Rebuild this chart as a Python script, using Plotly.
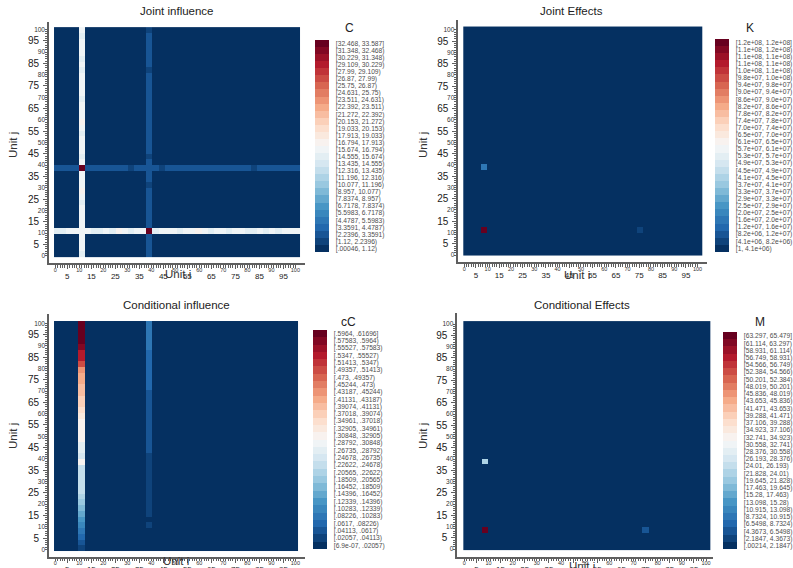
import numpy as np
import plotly.graph_objects as go
from plotly.colors import sample_colorscale

W, H = 793, 568
NB = 40  # bins per axis in every heat map
FONT = "Liberation Sans"

# ---------------- data ----------------
# Joint influence (C): background level plus the rows/columns of the two shocked units
c_base = 0.5
c_col_a = [15.1, 16.2, 16.3, 16.1, 16.3, 16.2, 16.0, 16.4, 16.1, 15.2,
           16.3, 17.4, 16.2, 16.3, 16.1, 33.1, 16.2, 15.3, 16.4, 16.2,
           16.3, 15.1, 16.2, 17.5, 16.3, 16.1, 16.2, 15.2, 16.3, 16.2,
           16.4, 16.1, 15.3, 16.2, 15.2, 16.3, 16.2, 16.1, 15.1, 16.2]   # unit bin 4, by j
c_row_a = [15.0, 15.2, 16.3, 16.2, 16.3, 16.2, 15.1, 15.3, 16.2, 15.2,
           17.4, 16.3, 15.4, 16.2, 16.3, 33.1, 15.2, 16.3, 16.2, 16.4,
           15.2, 16.3, 16.2, 17.3, 16.2, 15.3, 16.3, 16.2, 15.2, 16.3,
           16.2, 15.1, 15.2, 16.3, 15.3, 16.2, 15.2, 16.3, 16.2, 16.3]   # unit bin 4, by i
c_col_b = [2.8, 2.8, 2.8, 2.8, 33.1, 2.8, 2.8, 2.8, 2.8, 2.8,
           2.8, 2.8, 1.7, 2.8, 2.8, 2.8, 2.8, 1.7, 2.8, 2.8,
           2.8, 2.8, 2.8, 2.8, 2.8, 2.8, 2.8, 2.8, 2.8, 2.8,
           2.8, 2.8, 1.7, 2.8, 2.8, 2.8, 2.8, 2.8, 2.8, 1.7]             # unit bin 15, by j
c_row_b = [2.8, 2.8, 2.8, 2.8, 33.1, 2.8, 2.8, 2.8, 2.8, 2.8,
           2.8, 2.8, 1.7, 2.8, 2.8, 2.8, 2.8, 1.7, 2.8, 2.8,
           2.8, 2.8, 2.8, 2.8, 2.8, 2.8, 2.8, 2.8, 2.8, 2.8,
           2.8, 2.8, 1.7, 2.8, 2.8, 2.8, 2.8, 2.8, 2.8, 2.8]             # unit bin 15, by i
unit_a, unit_b = 4, 15

# Conditional influence (cC): background plus two columns
cc_base = 0.008
cc_col_a = [.031, .051, .072, .092, .113, .134, .154, .175, .195, .216,
            .236, .236, .237, .235, .236, .318, .257, .277, .278, .319,
            .318, .320, .317, .339, .360, .380, .381, .400, .401, .421,
            .422, .442, .504, .545, .544, .586, .606, .607, .606, .610]
cc_col_b = [.008, .008, .008, .008, .031, .008, .031, .031, .031, .031,
            .031, .031, .031, .031, .031, .031, .031, .051, .051, .051,
            .051, .051, .051, .051, .051, .051, .051, .051, .072, .072,
            .072, .072, .072, .072, .072, .092, .092, .092, .092, .092]

# Joint effects (K) and conditional effects (M): background plus a few cells
k_base = 1.5e6
k_cell_i = [3, 3, 29]
k_cell_j = [4, 15, 4]
k_cell_v = [1.22e8, 1.8e7, 6.2e6]

m_base = 1.0
m_cell_i = [3, 3, 29]
m_cell_j = [3, 15, 3]
m_cell_v = [64.5, 22.9, 5.4]

# legend bins (bottom to top)
c_bounds = (0.00046, 33.587)
c_labels = ["[.00046, 1.12)", "[1.12, 2.2396)", "[2.2396, 3.3591)", "[3.3591, 4.4787)",
            "[4.4787, 5.5983)", "[5.5983, 6.7178)", "[6.7178, 7.8374)", "[7.8374, 8.957)",
            "[8.957, 10.077)", "[10.077, 11.196)", "[11.196, 12.316)", "[12.316, 13.435)",
            "[13.435, 14.555)", "[14.555, 15.674)", "[15.674, 16.794)", "[16.794, 17.913)",
            "[17.913, 19.033)", "[19.033, 20.153)", "[20.153, 21.272)", "[21.272, 22.392)",
            "[22.392, 23.511)", "[23.511, 24.631)", "[24.631, 25.75)", "[25.75, 26.87)",
            "[26.87, 27.99)", "[27.99, 29.109)", "[29.109, 30.229)", "[30.229, 31.348)",
            "[31.348, 32.468)", "[32.468, 33.587]"]
k_bounds = (1.0, 1.23e8)
k_labels = ["[1, 4.1e+06)", "[4.1e+06, 8.2e+06)", "[8.2e+06, 1.2e+07)", "[1.2e+07, 1.6e+07)",
            "[1.6e+07, 2.0e+07)", "[2.0e+07, 2.5e+07)", "[2.5e+07, 2.9e+07)", "[2.9e+07, 3.3e+07)",
            "[3.3e+07, 3.7e+07)", "[3.7e+07, 4.1e+07)", "[4.1e+07, 4.5e+07)", "[4.5e+07, 4.9e+07)",
            "[4.9e+07, 5.3e+07)", "[5.3e+07, 5.7e+07)", "[5.7e+07, 6.1e+07)", "[6.1e+07, 6.5e+07)",
            "[6.5e+07, 7.0e+07)", "[7.0e+07, 7.4e+07)", "[7.4e+07, 7.8e+07)", "[7.8e+07, 8.2e+07)",
            "[8.2e+07, 8.6e+07)", "[8.6e+07, 9.0e+07)", "[9.0e+07, 9.4e+07)", "[9.4e+07, 9.8e+07)",
            "[9.8e+07, 1.0e+08)", "[1.0e+08, 1.1e+08)", "[1.1e+08, 1.1e+08)", "[1.1e+08, 1.1e+08)",
            "[1.1e+08, 1.2e+08)", "[1.2e+08, 1.2e+08]"]
cc_bounds = (6.9e-07, 0.61696)
cc_labels = ["[6.9e-07, .02057)", "[.02057, .04113)", "[.04113, .0617)", "[.0617, .08226)",
             "[.08226, .10283)", "[.10283, .12339)", "[.12339, .14396)", "[.14396, .16452)",
             "[.16452, .18509)", "[.18509, .20565)", "[.20565, .22622)", "[.22622, .24678)",
             "[.24678, .26735)", "[.26735, .28792)", "[.28792, .30848)", "[.30848, .32905)",
             "[.32905, .34961)", "[.34961, .37018)", "[.37018, .39074)", "[.39074, .41131)",
             "[.41131, .43187)", "[.43187, .45244)", "[.45244, .473)", "[.473, .49357)",
             "[.49357, .51413)", "[.51413, .5347)", "[.5347, .55527)", "[.55527, .57583)",
             "[.57583, .5964)", "[.5964, .61696]"]
m_bounds = (0.00214, 65.479)
m_labels = ["[.00214, 2.1847)", "[2.1847, 4.3673)", "[4.3673, 6.5498)", "[6.5498, 8.7324)",
            "[8.7324, 10.915)", "[10.915, 13.098)", "[13.098, 15.28)", "[15.28, 17.463)",
            "[17.463, 19.645)", "[19.645, 21.828)", "[21.828, 24.01)", "[24.01, 26.193)",
            "[26.193, 28.376)", "[28.376, 30.558)", "[30.558, 32.741)", "[32.741, 34.923)",
            "[34.923, 37.106)", "[37.106, 39.288)", "[39.288, 41.471)", "[41.471, 43.653)",
            "[43.653, 45.836)", "[45.836, 48.019)", "[48.019, 50.201)", "[50.201, 52.384)",
            "[52.384, 54.566)", "[54.566, 56.749)", "[56.749, 58.931)", "[58.931, 61.114)",
            "[61.114, 63.297)", "[63.297, 65.479]"]

# ---------------- matrices ----------------
zc = np.full((NB, NB), c_base)
zc[:, unit_a] = c_col_a
zc[unit_a, :] = c_row_a
zc[:, unit_b] = c_col_b
zc[unit_b, :] = c_row_b

zcc = np.full((NB, NB), cc_base)
zcc[:, unit_a] = cc_col_a
zcc[:, unit_b] = cc_col_b

zk = np.full((NB, NB), k_base)
for i, j, v in zip(k_cell_i, k_cell_j, k_cell_v):
    zk[j, i] = v

zm = np.full((NB, NB), m_base)
for i, j, v in zip(m_cell_i, m_cell_j, m_cell_v):
    zm[j, i] = v

# ---------------- colours ----------------
RDBU = ["#053061", "#2166ac", "#4393c3", "#92c5de", "#d1e5f0", "#f7f7f7",
        "#fddbc7", "#f4a582", "#d6604d", "#b2182b", "#67001f"]
NCOL = 30
cols = sample_colorscale([[k / 10, c] for k, c in enumerate(RDBU)],
                         [k / (NCOL - 1) for k in range(NCOL)])
step_scale = []
for k, c in enumerate(cols):
    step_scale += [[k / NCOL, c], [(k + 1) / NCOL, c]]


def px_x(p):
    return p / W


def px_y(p):
    return 1 - p / H


panels = [
    dict(z=zc, bounds=c_bounds, labels=c_labels, name="C", title="Joint influence",
         xd=(49, 305), yd=(21.7, 263), xr=(-2.63, 104.0), yr=(-3.2, 103.4),
         hx=(-0.54, 101.96), hy=(-0.57, 101.0), bar=(315, 40, 252),
         ttl=(176.7, 11), ct=(349, 28), ui=(177.5, 274), uj=(13, 145)),
    dict(z=zk, bounds=k_bounds, labels=k_labels, name="K", title="Joint Effects",
         xd=(458.3, 706.7), yd=(20, 262.3), xr=(-2.57, 103.9), yr=(-3.24, 104.4),
         hx=(-0.43, 101.8), hy=(-0.44, 101.5), bar=(715, 39, 251.7),
         ttl=(571, 11), ct=(750, 28), ui=(576.7, 275), uj=(423, 145)),
    dict(z=zcc, bounds=cc_bounds, labels=cc_labels, name="cC", title="Conditional influence",
         xd=(49, 305), yd=(314, 556.7), xr=(-2.63, 104.0), yr=(-3.27, 104.1),
         hx=(-0.54, 100.9), hy=(-0.6, 101.0), bar=(312.7, 330, 548.7),
         ttl=(176, 305), ct=(348, 322), ui=(176, 561), uj=(13, 436)),
    dict(z=zm, bounds=m_bounds, labels=m_labels, name="M", title="Conditional Effects",
         xd=(457.3, 713.3), yd=(313, 556.7), xr=(-2.9, 103.0), yr=(-3.42, 104.9),
         hx=(-0.4, 101.7), hy=(-0.44, 101.3), bar=(723.3, 332.3, 549.3),
         ttl=(582, 305), ct=(760, 322), ui=(581.7, 566), uj=(423, 436)),
]

AXC = "#5f5f5f"
big_vals = list(range(0, 101, 5))
big_text = ["" if v % 10 == 0 else str(v) for v in big_vals]
small_vals = list(range(0, 101, 10))
small_text = [str(v) for v in small_vals]
minor_vals = list(range(0, 101))

fig = go.Figure()
layout = dict(width=W, height=H, margin=dict(l=0, r=0, t=0, b=0, autoexpand=False),
              paper_bgcolor="white", plot_bgcolor="white", showlegend=False,
              font=dict(family=FONT, color="#222"))
annotations = []

for n, p in enumerate(panels, start=1):
    sfx = "" if n == 1 else str(n)
    lo, hi = p["bounds"]
    w = (hi - lo) / NCOL
    xe = np.linspace(p["hx"][0], p["hx"][1], NB + 1)
    ye = np.linspace(p["hy"][0], p["hy"][1], NB + 1)
    bx, by0, by1 = p["bar"]
    fig.add_trace(go.Heatmap(
        z=p["z"], x=xe, y=ye, xaxis="x" + sfx, yaxis="y" + sfx,
        zmin=lo, zmax=hi, colorscale=step_scale, zsmooth=False,
        hoverinfo="skip",
        colorbar=dict(
            x=px_x(bx), xanchor="left", xpad=0, ypad=0,
            y=px_y((by0 + by1) / 2), yanchor="middle",
            len=by1 - by0, lenmode="pixels", thickness=13.5, thicknessmode="pixels",
            outlinewidth=0, ticks="outside", ticklen=6, tickcolor="rgba(0,0,0,0)",
            tickmode="array", tickvals=[lo + (k + 0.5) * w for k in range(NCOL)],
            ticktext=p["labels"], tickfont=dict(size=6.7, family=FONT, color="#4d4d4d"),
        ),
    ))

    common = dict(showgrid=False, zeroline=False, showline=True, linecolor=AXC,
                  linewidth=2, ticks="outside", ticklen=4, tickwidth=1, tickcolor=AXC,
                  tickmode="array", tickvals=big_vals, ticktext=big_text, tickangle=0,
                  minor=dict(tickmode="array", tickvals=minor_vals, ticks="outside",
                             ticklen=2.5, tickwidth=1, tickcolor=AXC))
    layout["xaxis" + sfx] = dict(common, domain=[px_x(p["xd"][0]), px_x(p["xd"][1])],
                                 range=list(p["xr"]), anchor="y" + sfx,
                                 tickfont=dict(size=8, color="#222"), ticklabelstandoff=0)
    layout["yaxis" + sfx] = dict(common, domain=[px_y(p["yd"][1]), px_y(p["yd"][0])],
                                 range=list(p["yr"]), anchor="x" + sfx,
                                 tickfont=dict(size=10, color="#222"), ticklabelstandoff=2)
    # second label layer: the tens in a smaller face
    ox, oy = str(n + 4), str(n + 4)
    layout["xaxis" + ox] = dict(overlaying="x" + sfx, anchor="y" + sfx, side="bottom",
                                range=list(p["xr"]), showgrid=False, zeroline=False,
                                showline=False, ticks="", tickmode="array",
                                tickvals=small_vals, ticktext=small_text, tickangle=0,
                                tickfont=dict(size=5.5, color="#333"), ticklabelstandoff=2)
    layout["yaxis" + oy] = dict(overlaying="y" + sfx, anchor="x" + sfx, side="left",
                                range=list(p["yr"]), showgrid=False, zeroline=False,
                                showline=False, ticks="", tickmode="array",
                                tickvals=small_vals, ticktext=small_text,
                                tickfont=dict(size=6.5, color="#333"), ticklabelstandoff=3)
    fig.add_trace(go.Scatter(x=[None], y=[None], xaxis="x" + ox, yaxis="y" + oy,
                             hoverinfo="skip", showlegend=False))

    annotations += [
        dict(text=p["title"], x=px_x(p["ttl"][0]), y=px_y(p["ttl"][1]), xref="paper",
             yref="paper", showarrow=False, xanchor="center", yanchor="middle",
             font=dict(size=11.5, color="#222")),
        dict(text=p["name"], x=px_x(p["ct"][0]), y=px_y(p["ct"][1]), xref="paper",
             yref="paper", showarrow=False, xanchor="center", yanchor="middle",
             font=dict(size=12, color="#222")),
        dict(text="Unit i", x=px_x(p["ui"][0]), y=px_y(p["ui"][1]), xref="paper",
             yref="paper", showarrow=False, xanchor="center", yanchor="middle",
             font=dict(size=11.5, color="#333")),
        dict(text="Unit j", x=px_x(p["uj"][0]), y=px_y(p["uj"][1]), xref="paper",
             yref="paper", showarrow=False, xanchor="center", yanchor="middle",
             textangle=-90, font=dict(size=11.5, color="#333")),
    ]

layout["annotations"] = annotations
fig.update_layout(**layout)
fig.write_html("out.html")
